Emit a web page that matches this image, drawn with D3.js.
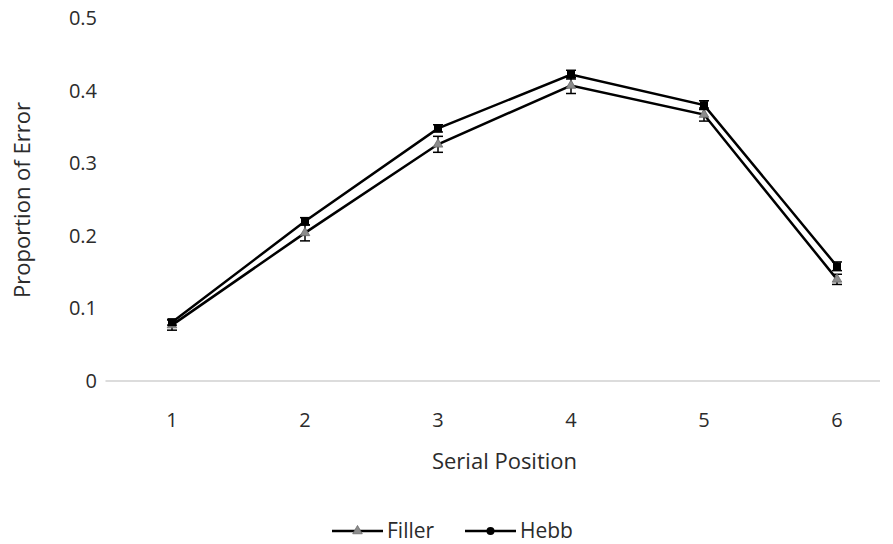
<!DOCTYPE html>
<html>
<head>
<meta charset="utf-8">
<script src="https://cdn.jsdelivr.net/npm/d3@7"></script>
<style>
  body { margin: 0; background: #fff; }
  svg { display: block; font-family: "Open Sans", "Noto Sans", sans-serif; }
</style>
</head>
<body>
<div id="chart"></div>
<script>
const positions = [1, 2, 3, 4, 5, 6];
const yTicks = [0, 0.1, 0.2, 0.3, 0.4, 0.5];
const fillerValues = [0.077, 0.204, 0.326, 0.407, 0.367, 0.140];
const fillerErrors = [0.007, 0.011, 0.011, 0.011, 0.009, 0.007];
const hebbValues = [0.081, 0.220, 0.348, 0.422, 0.380, 0.158];
const hebbErrors = [0.004, 0.005, 0.005, 0.006, 0.006, 0.006];

const width = 893, height = 544;
const textColor = "#2b2b2b";

const svg = d3.select("#chart").append("svg")
    .attr("width", width).attr("height", height);

const x = d3.scaleBand().domain(positions).range([105.5, 903.5]);
const cx = d => x(d) + x.bandwidth() / 2;
const y = d3.scaleLinear().domain([0, 0.5]).range([381, 18]);

// horizontal axis line
svg.append("line")
    .attr("x1", x.range()[0]).attr("x2", 880)
    .attr("y1", y(0)).attr("y2", y(0))
    .attr("stroke", "#d0d0d0").attr("stroke-width", 1.5);

// y tick labels
svg.selectAll(".ytick").data(yTicks).enter().append("text")
    .attr("x", 97).attr("y", d => y(d)).attr("dy", "0.35em")
    .attr("text-anchor", "end").attr("font-size", 20).attr("fill", textColor)
    .text(d => d === 0 ? "0" : d3.format(".1f")(d));

// x tick labels
svg.selectAll(".xtick").data(positions).enter().append("text")
    .attr("x", d => cx(d)).attr("y", 420).attr("dy", "0.35em")
    .attr("text-anchor", "middle").attr("font-size", 20).attr("fill", textColor)
    .text(d => d);

svg.append("text")
    .attr("x", cx(1) / 2 + cx(6) / 2).attr("y", 461).attr("dy", "0.35em")
    .attr("text-anchor", "middle").attr("font-size", 22).attr("fill", textColor)
    .text("Serial Position");

svg.append("text")
    .attr("transform", `translate(22,200) rotate(-90)`).attr("dy", "0.35em")
    .attr("text-anchor", "middle").attr("font-size", 22).attr("fill", textColor)
    .text("Proportion of Error");

const series = [
    { name: "Filler", values: fillerValues, errors: fillerErrors, marker: "triangle" },
    { name: "Hebb", values: hebbValues, errors: hebbErrors, marker: "circle" }
];

const line = d3.line().x((d, i) => cx(positions[i])).y(d => y(d));
const triangle = d3.symbol().type(d3.symbolTriangle).size(40);

series.forEach(s => {
    svg.append("path").datum(s.values)
        .attr("fill", "none").attr("stroke", "#000").attr("stroke-width", 2.5)
        .attr("d", line);

    const g = svg.append("g");
    s.values.forEach((v, i) => {
        const px = cx(positions[i]);
        const lo = y(v - s.errors[i]), hi = y(v + s.errors[i]);
        g.append("line").attr("x1", px).attr("x2", px).attr("y1", lo).attr("y2", hi)
            .attr("stroke", "#000").attr("stroke-width", 1.5);
        [lo, hi].forEach(yy => g.append("line")
            .attr("x1", px - 5).attr("x2", px + 5).attr("y1", yy).attr("y2", yy)
            .attr("stroke", "#000").attr("stroke-width", 1.5));
        if (s.marker === "triangle") {
            g.append("path").attr("d", triangle)
                .attr("transform", `translate(${px},${y(v)})`)
                .attr("fill", "#8c8c8c").attr("stroke", "#6a6a6a").attr("stroke-width", 0.8);
        } else {
            g.append("rect").attr("x", px - 4).attr("y", y(v) - 4).attr("width", 8).attr("height", 8)
                .attr("fill", "#000");
        }
    });
});

// legend
const legend = svg.append("g").attr("transform", "translate(0,531)");
const legendItems = [
    { name: "Filler", x0: 332, marker: "triangle" },
    { name: "Hebb", x0: 465, marker: "circle" }
];
legendItems.forEach(it => {
    legend.append("line").attr("x1", it.x0).attr("x2", it.x0 + 51).attr("y1", 0).attr("y2", 0)
        .attr("stroke", "#000").attr("stroke-width", 2.5);
    if (it.marker === "triangle") {
        legend.append("path").attr("d", triangle).attr("transform", `translate(${it.x0 + 25.5},0)`)
            .attr("fill", "#8c8c8c").attr("stroke", "#6a6a6a").attr("stroke-width", 0.8);
    } else {
        legend.append("circle").attr("cx", it.x0 + 25.5).attr("cy", 0).attr("r", 4).attr("fill", "#000");
    }
    legend.append("text").attr("x", it.x0 + 55).attr("y", 0).attr("dy", "0.35em")
        .attr("font-size", 21).attr("fill", textColor).text(it.name);
});
</script>
</body>
</html>
